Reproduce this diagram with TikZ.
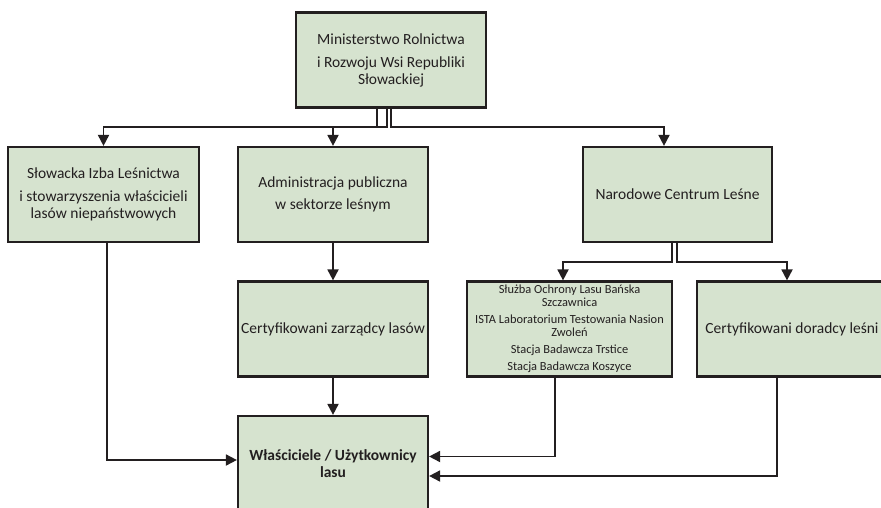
\documentclass[tikz,border=0pt]{standalone}
\usepackage{fontspec}
\setmainfont{Carlito}
\usetikzlibrary{arrows.meta}
\definecolor{boxfill}{RGB}{214,227,207}
\definecolor{ink}{RGB}{35,31,32}
\definecolor{txt}{RGB}{35,31,32}
\tikzset{
  box/.style={draw=ink, line width=2.2pt, fill=boxfill, align=center, inner sep=0pt,
    minimum width=190pt, minimum height=95pt, text=txt, font=\fontsize{15.5}{17}\selectfont},
  smallbox/.style={box, font=\fontsize{12.4}{13}\selectfont},
  arr/.style={draw=ink, line width=1.8pt, -{Triangle[length=11pt,width=11pt]}},
}
\begin{document}
\begin{tikzpicture}[x=1pt,y=-1pt]
\useasboundingbox (0,0) rectangle (881,507);
\clip (0,0) rectangle (881,507);
\node[box] (top) at (391,60) {Ministerstwo Rolnictwa\\[6pt]i Rozwoju Wsi Republiki\\Słowackiej};
\node[box, minimum width=191pt] (b1) at (103.5,194.5) {Słowacka Izba Leśnictwa\\[6pt]i stowarzyszenia właścicieli\\lasów niepaństwowych};
\node[box] (b2) at (333,194.5) {Administracja publiczna\\[5pt]w sektorze leśnym};
\node[box, minimum width=189pt] (ncl) at (677.5,194.5) {Narodowe Centrum Leśne};
\node[box] (czl) at (333,329) {Certyfikowani zarządcy lasów};
\node[smallbox, minimum width=205pt] (sl) at (569.5,329) {Służba Ochrony Lasu Bańska\\Szczawnica\\[4pt]ISTA Laboratorium Testowania Nasion\\Zwoleń\\[4pt]Stacja Badawcza Trstice\\[4pt]Stacja Badawcza Koszyce};
\node[box] (cdl) at (792,329) {Certyfikowani doradcy leśni};
\node[box, font=\bfseries\fontsize{15.5}{17}\selectfont] (wl) at (333,463.5) {Właściciele / Użytkownicy\\lasu};
% connectors
\draw[arr] ([xshift=-14pt]top.south) -- ++(0,18) -| (b1.north);
\draw[arr] ([xshift=-4pt]top.south) -- ++(0,18) -| (b2.north);
\draw[arr] (top.south) -- ++(0,18) -| ([xshift=-13.5pt]ncl.north);
\draw[arr] (b2.south) -- (czl.north);
\draw[arr] ([xshift=-5.5pt]ncl.south) -- ++(0,19) -| ([xshift=-6.5pt]sl.north);
\draw[arr] ([xshift=-0.5pt]ncl.south) -- ++(0,19) -| ([xshift=-5pt]cdl.north);
\draw[arr] (czl.south) -- (wl.north);
\draw[arr] ([xshift=3.5pt]b1.south) |- ([yshift=3.5pt]wl.west);
\draw[arr] ([xshift=-14.5pt]sl.south) |- ([yshift=7pt]wl.east);
\draw[arr] ([xshift=-15pt]cdl.south) |- ([yshift=-12.5pt]wl.east);
\end{tikzpicture}
\end{document}
